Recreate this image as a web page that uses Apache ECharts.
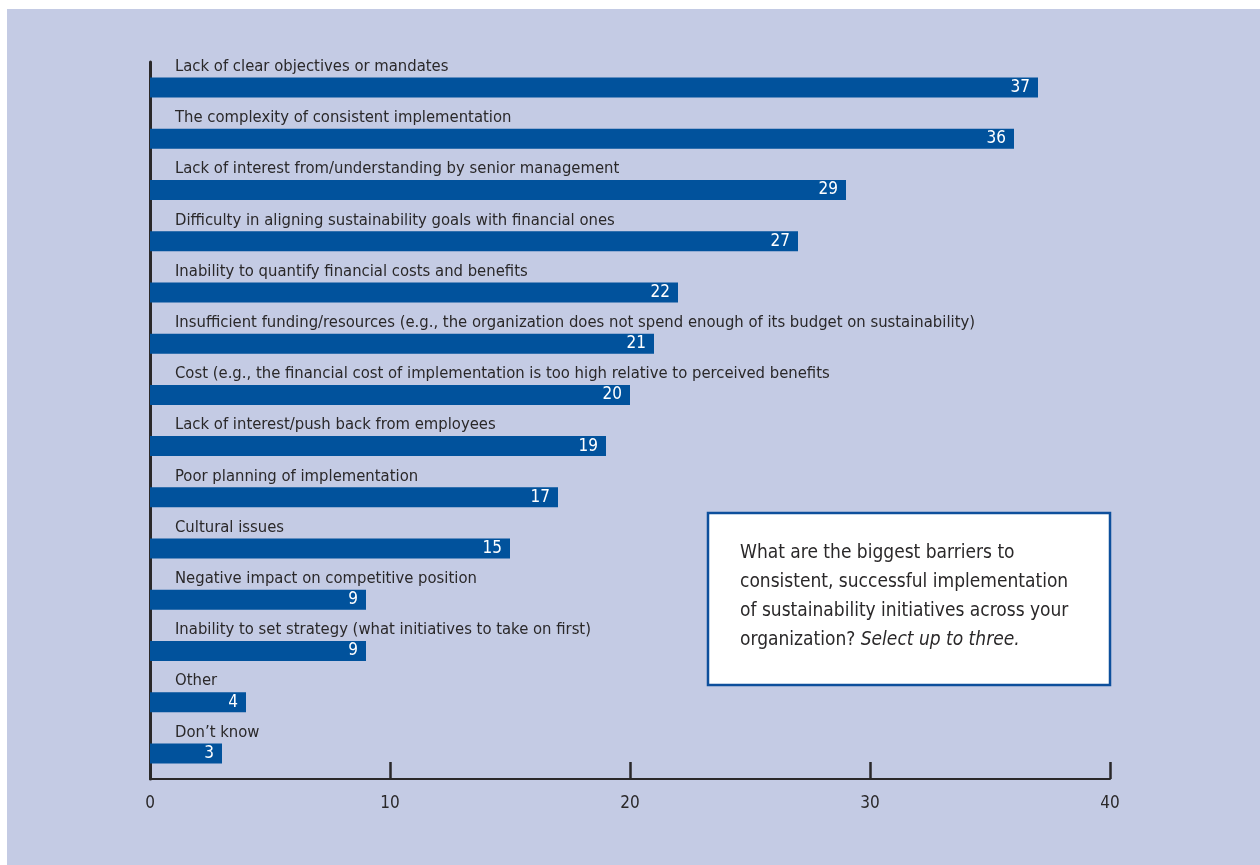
<!DOCTYPE html>
<html>
<head>
<meta charset="utf-8">
<script src="https://cdn.jsdelivr.net/npm/echarts@6/dist/echarts.min.js"></script>
<style>
html,body{margin:0;padding:0;background:#fff;}
#chart{width:1260px;height:865px;}
</style>
</head>
<body>
<div id="chart"></div>
<script>
const categories = [
  "Lack of clear objectives or mandates",
  "The complexity of consistent implementation",
  "Lack of interest from/understanding by senior management",
  "Difficulty in aligning sustainability goals with financial ones",
  "Inability to quantify financial costs and benefits",
  "Insufficient funding/resources (e.g., the organization does not spend enough of its budget on sustainability)",
  "Cost (e.g., the financial cost of implementation is too high relative to perceived benefits",
  "Lack of interest/push back from employees",
  "Poor planning of implementation",
  "Cultural issues",
  "Negative impact on competitive position",
  "Inability to set strategy (what initiatives to take on first)",
  "Other",
  "Don\u2019t know"
];
const values = [37, 36, 29, 27, 22, 21, 20, 19, 17, 15, 9, 9, 4, 3];
const xTicks = [0, 10, 20, 30, 40];
const questionLines = [
  "What are the biggest barriers to",
  "consistent, successful implementation",
  "of sustainability initiatives across your",
  "organization? "
];
const questionItalic = "Select up to three.";

const FONT = "'Liberation Sans Narrow', 'DejaVu Sans Condensed', sans-serif";
const TEXT = '#2a2829';
const BAR = '#01529c';
const PANEL = '#c4cbe4';

const chart = echarts.init(document.getElementById('chart'));

const qText = questionLines.slice(0, 3).map(l => '{n|' + l + '}').join('\n') +
  '\n{n|' + questionLines[3] + '}{i|' + questionItalic + '}';

chart.setOption({
  backgroundColor: '#ffffff',
  animation: false,
  grid: { left: 150, right: 150, top: 62, bottom: 86, containLabel: false },
  xAxis: {
    type: 'value',
    min: 0, max: 40, interval: 10,
    axisLine: { show: true, lineStyle: { color: TEXT, width: 2 } },
    axisTick: { show: true, inside: true, length: 17, lineStyle: { color: TEXT, width: 2.5 } },
    axisLabel: {
      color: TEXT, fontFamily: FONT, fontSize: 17, margin: 16,
      formatter: v => xTicks.includes(v) ? String(v) : ''
    },
    splitLine: { show: false }
  },
  yAxis: {
    type: 'category',
    data: categories,
    inverse: true,
    axisLine: { show: true, lineStyle: { color: TEXT, width: 3 } },
    axisTick: { show: false },
    axisLabel: { show: false }
  },
  graphic: [
    {
      type: 'rect', z: -100, silent: true,
      shape: { x: 7, y: 9, width: 1253, height: 856 },
      style: { fill: PANEL }
    },
    {
      type: 'rect', z: 100, silent: true,
      shape: { x: 708, y: 513, width: 402, height: 172 },
      style: { fill: '#ffffff', stroke: '#0d4f9c', lineWidth: 2.5 }
    },
    {
      type: 'text', z: 101, silent: true,
      x: 740, y: 539,
      style: {
        text: qText,
        rich: {
          n: { fontFamily: FONT, fontSize: 19, lineHeight: 29, fill: TEXT, fontStyle: 'normal' },
          i: { fontFamily: FONT, fontSize: 19, lineHeight: 29, fill: TEXT, fontStyle: 'italic' }
        }
      }
    }
  ],
  series: [
    {
      type: 'bar',
      data: values,
      barWidth: 20,
      itemStyle: { color: BAR },
      silent: true,
      label: {
        show: true,
        position: 'insideRight',
        distance: 8,
        color: '#ffffff',
        fontFamily: FONT,
        fontSize: 17
      }
    },
    {
      type: 'bar',
      data: values,
      barWidth: 20,
      barGap: '-100%',
      itemStyle: { color: 'rgba(0,0,0,0)' },
      silent: true,
      label: {
        show: true,
        position: [25, -11],
        align: 'left',
        verticalAlign: 'middle',
        color: TEXT,
        fontFamily: FONT,
        fontSize: 16.5,
        formatter: p => categories[p.dataIndex]
      }
    }
  ]
});
</script>
</body>
</html>
